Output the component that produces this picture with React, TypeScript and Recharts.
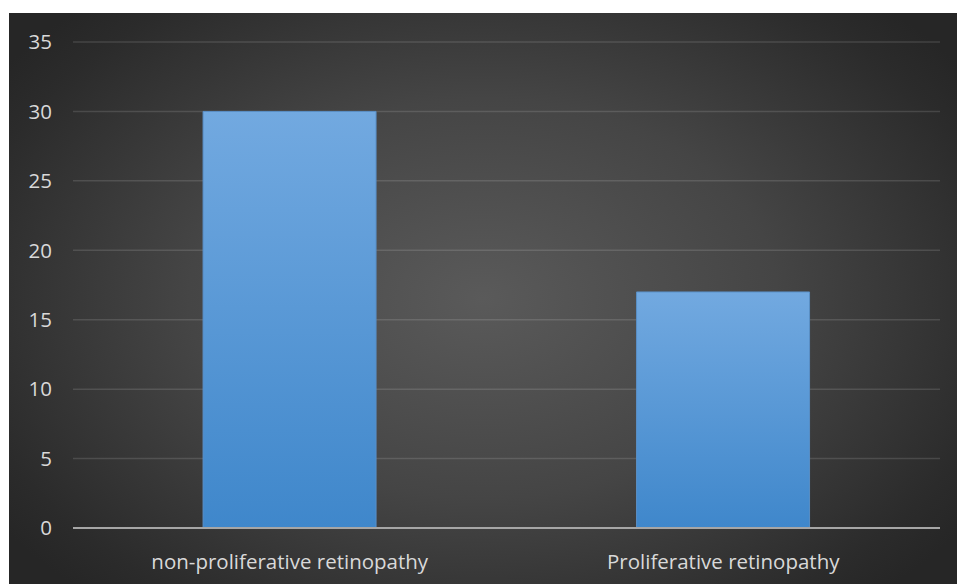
import { BarChart, Bar, XAxis, YAxis, CartesianGrid } from 'recharts';

const categories = ['non-proliferative retinopathy', 'Proliferative retinopathy'];
const counts = [30, 17];
const yTicks = [0, 5, 10, 15, 20, 25, 30, 35];

const data = categories.map((name, i) => ({ name, value: counts[i] }));

const font = '"Open Sans", "Noto Sans", sans-serif';

export default function App() {
  return (
    <div
      style={{
        position: 'absolute',
        left: 9,
        top: 13,
        width: 948,
        height: 571,
        background:
          'radial-gradient(ellipse 62% 70% at 50% 50%, #5a5a5a 0%, #454545 50%, #2b2b2b 90%, #262626 100%)',
        fontFamily: font,
      }}
    >
      <BarChart
        width={948}
        height={571}
        data={data}
        margin={{ top: 29, right: 17, left: 0, bottom: 0 }}
        barCategoryGap="30%"
      >
        <defs>
          <linearGradient id="barFill" x1="0" y1="0" x2="0" y2="1">
            <stop offset="0%" stopColor="#72a9e0" />
            <stop offset="100%" stopColor="#3f87cb" />
          </linearGradient>
        </defs>
        <CartesianGrid
          vertical={false}
          stroke="rgba(255,255,255,0.13)"
          strokeWidth={1.5}
        />
        <XAxis
          dataKey="name"
          height={56}
          tickSize={0}
          tickMargin={26}
          axisLine={{ stroke: '#a6a6a6', strokeWidth: 2 }}
          tick={{ fill: '#d9d9d9', fontSize: 20.5, fontFamily: font }}
        />
        <YAxis
          width={64}
          domain={[0, 35]}
          ticks={yTicks}
          interval={0}
          tickSize={0}
          tickMargin={21}
          axisLine={false}
          tickLine={false}
          tick={{ fill: '#d9d9d9', fontSize: 20.5, fontFamily: font }}
        />
        <Bar
          dataKey="value"
          fill="url(#barFill)"
          stroke="#5a8fc6"
          strokeWidth={1}
          isAnimationActive={false}
        />
      </BarChart>
    </div>
  );
}
